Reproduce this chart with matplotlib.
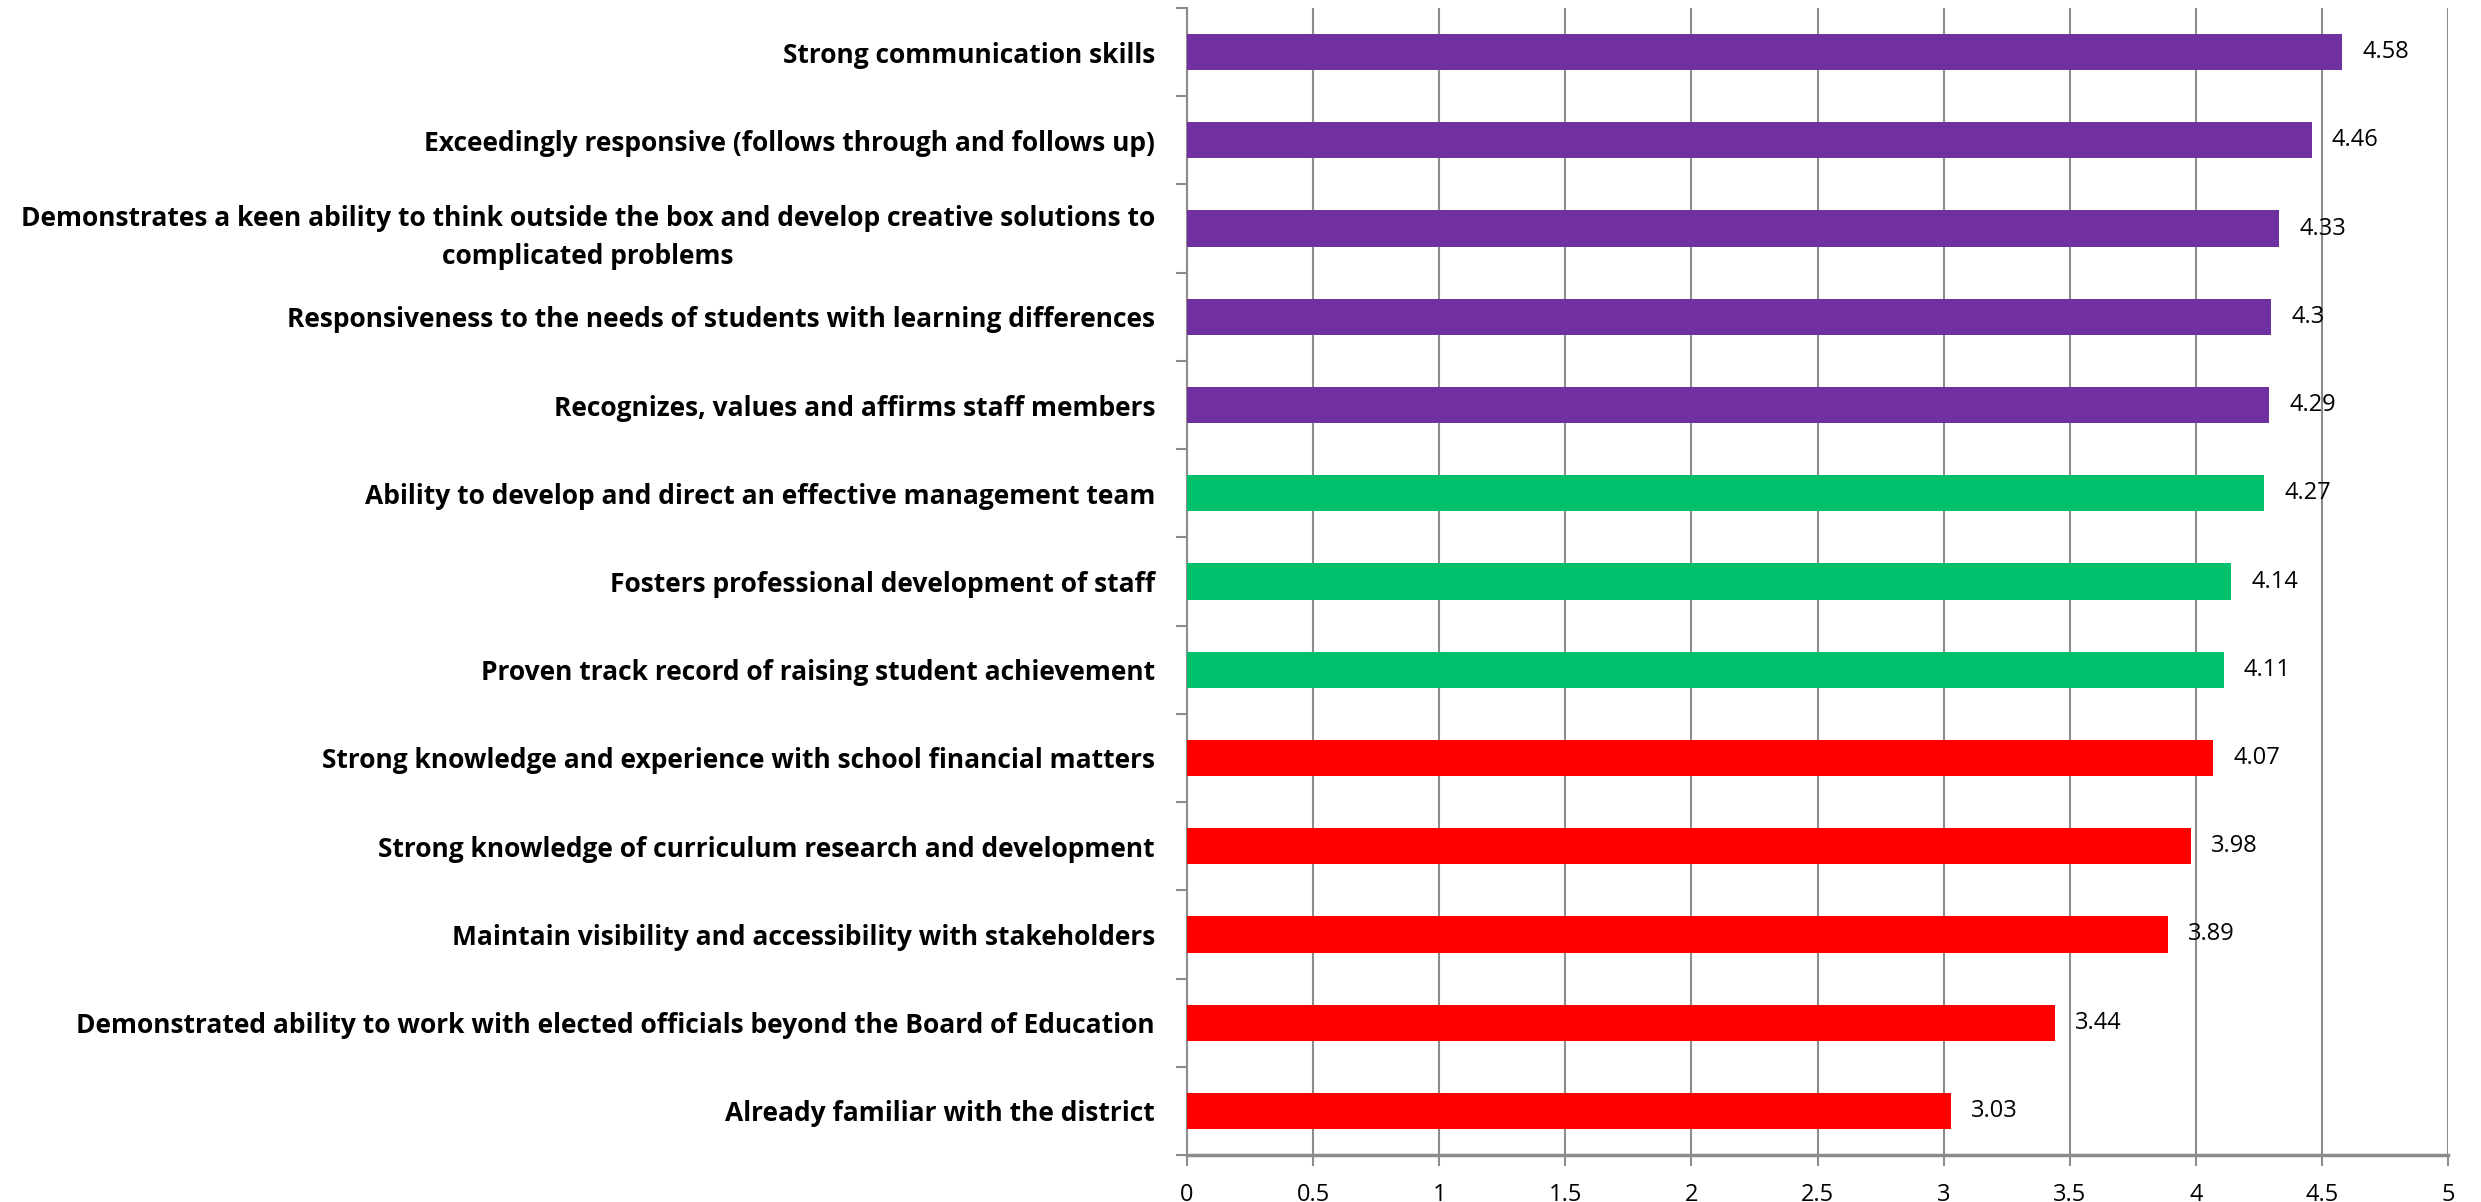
import matplotlib
matplotlib.use("Agg")
import matplotlib.pyplot as plt
from matplotlib import font_manager
import numpy as np

categories = [
    "Strong communication skills",
    "Exceedingly responsive (follows through and follows up)",
    "Demonstrates a keen ability to think outside the box and develop creative solutions to\ncomplicated problems",
    "Responsiveness to the needs of students with learning differences",
    "Recognizes, values and affirms staff members",
    "Ability to develop and direct an effective management team",
    "Fosters professional development of staff",
    "Proven track record of raising student achievement",
    "Strong knowledge and experience with school financial matters",
    "Strong knowledge of curriculum research and development",
    "Maintain visibility and accessibility with stakeholders",
    "Demonstrated ability to work with elected officials beyond the Board of Education",
    "Already familiar with the district",
]
values = [4.58, 4.46, 4.33, 4.30, 4.29, 4.27, 4.14, 4.11, 4.07, 3.98, 3.89, 3.44, 3.03]
value_labels = ["4.58", "4.46", "4.33", "4.3", "4.29", "4.27", "4.14", "4.11", "4.07", "3.98", "3.89", "3.44", "3.03"]
groups = ["purple"] * 5 + ["green"] * 3 + ["red"] * 5
group_colors = {"purple": "#7030A0", "green": "#00C06B", "red": "#FF0000"}
xticks = [0, 0.5, 1, 1.5, 2, 2.5, 3, 3.5, 4, 4.5, 5]
xtick_labels = ["0", "0.5", "1", "1.5", "2", "2.5", "3", "3.5", "4", "4.5", "5"]

avail = {f.name for f in font_manager.fontManager.ttflist}
fam = "Liberation Sans Narrow" if "Liberation Sans Narrow" in avail else "Open Sans"
plt.rcParams["font.family"] = [fam, "DejaVu Sans"]

fig = plt.figure(figsize=(24.81, 12.02), dpi=100)
ax = fig.add_axes([1187 / 2481, (1202 - 1155) / 1202, (2448 - 1187) / 2481, (1155 - 8) / 1202])

y = np.arange(len(categories))
colors = [group_colors[g] for g in groups]
ax.barh(y, values, height=0.41, color=colors, zorder=3)
ax.set_ylim(len(categories) - 0.5, -0.5)
ax.set_xlim(0, 5)

for yi, v, lab in zip(y, values, value_labels):
    ax.text(v + 0.08, yi, lab, va="center", ha="left", fontsize=17, color="#000000")

ax.set_xticks(xticks)
ax.set_xticklabels(xtick_labels, fontsize=17)
ax.xaxis.grid(True, color="#8C8C8C", linewidth=1.5, zorder=0)
ax.set_yticks(y)
ax.set_yticklabels(categories, fontsize=19, fontweight="bold", ha="right",
                   multialignment="center", linespacing=1.55)
ax.tick_params(axis="y", length=0, pad=23)
ax.set_yticks(np.arange(-0.5, len(categories) + 0.5, 1), minor=True)
ax.tick_params(axis="y", which="minor", length=8, width=1.5, color="#8C8C8C")
ax.tick_params(axis="x", length=8, width=1.5, color="#8C8C8C", pad=12)

for s in ["top", "right"]:
    ax.spines[s].set_visible(False)
ax.spines["left"].set_color("#8C8C8C")
ax.spines["left"].set_linewidth(1.5)
ax.spines["bottom"].set_color("#8C8C8C")
ax.spines["bottom"].set_linewidth(2.5)

fig.savefig("out.png", dpi=100, facecolor="white")
